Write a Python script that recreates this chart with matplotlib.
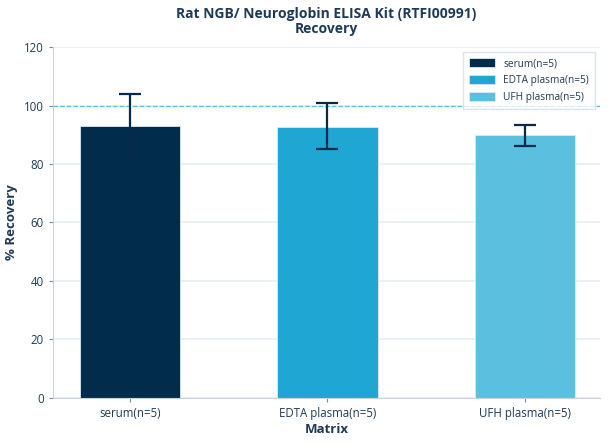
import numpy as np
import matplotlib.pyplot as plt

plt.rcParams['font.family'] = ['Open Sans', 'DejaVu Sans']

# Recovery data
matrices = ['serum(n=5)', 'EDTA plasma(n=5)', 'UFH plasma(n=5)']
recovery = [93.0, 92.6, 90.0]
err_low = [10.8, 7.5, 3.8]
err_high = [10.8, 8.2, 3.5]
colors = ['#022c4b', '#1fa6d3', '#5bbfdf']
yticks = [0, 20, 40, 60, 80, 100, 120]

text_col = '#1f3a56'

fig = plt.figure(figsize=(6.08, 4.44), dpi=100)
ax = fig.add_axes([0.087, 0.104, 0.9, 0.79])

x = np.arange(len(matrices))
for i in range(len(matrices)):
    ax.bar(x[i], recovery[i], width=0.51, color=colors[i], edgecolor='#dfe8f0',
           linewidth=0.6, label=matrices[i], zorder=2)
ax.errorbar(x, recovery, yerr=[err_low, err_high], fmt='none', ecolor='#042c4a',
            elinewidth=1.6, capsize=8, capthick=1.6, zorder=3)

ax.axhline(100, color='#5bbfdf', linestyle='--', linewidth=0.9, zorder=1)

ax.set_xlim(-0.39, 2.38)
ax.set_ylim(0, 120)
ax.set_yticks(yticks)
ax.set_xticks(x)
ax.set_xticklabels(matrices)
ax.yaxis.grid(True, color='#e6edf3', linewidth=1.2, zorder=0)
ax.set_axisbelow(True)

for s in ['top', 'right']:
    ax.spines[s].set_visible(False)
for s in ['left', 'bottom']:
    ax.spines[s].set_color('#c8d3dd')
ax.tick_params(colors=text_col, labelsize=8.3, length=3)
ax.tick_params(axis='both', color='#7a8a99')

ax.set_xlabel('Matrix', fontsize=9.5, fontweight='bold', color=text_col, labelpad=2)
ax.set_ylabel('% Recovery', fontsize=9.5, fontweight='bold', color=text_col)
ax.set_title('Rat NGB/ Neuroglobin ELISA Kit (RTFI00991)\nRecovery', fontsize=10,
             fontweight='bold', color=text_col, linespacing=1.1, pad=10)

leg = ax.legend(loc='upper right', fontsize=7.3, frameon=True, fancybox=False,
                edgecolor='#d5dde5', handlelength=2.6, handleheight=1.0,
                labelcolor=text_col, labelspacing=0.6, borderpad=0.6)

fig.savefig('out.png', dpi=100)
